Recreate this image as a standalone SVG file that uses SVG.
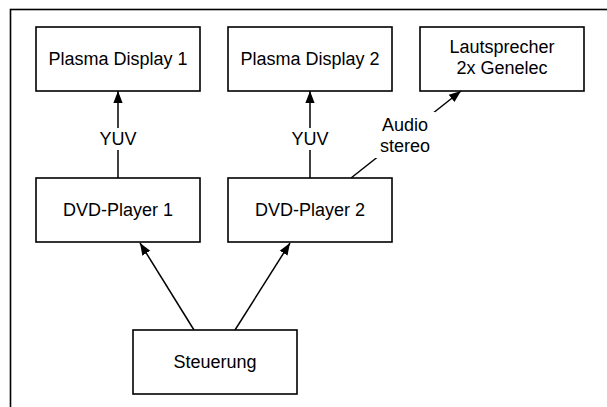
<svg xmlns="http://www.w3.org/2000/svg" width="607" height="407" viewBox="0 0 607 407">
<style>
.box{fill:#fff;stroke:#000;stroke-width:1.6}
.t{font-family:"Liberation Sans",Arial,Helvetica,sans-serif;font-size:18px;fill:#000;text-anchor:middle;dominant-baseline:central}
.c{stroke:#000;stroke-width:1.5;fill:none}
.bg{fill:#fff;stroke:none}
</style>
<defs>
<marker id="ah" markerUnits="userSpaceOnUse" markerWidth="12" markerHeight="14" refX="13" refY="5" orient="auto" viewBox="0 0 13 10">
<path d="M0,0 L13,5 L0,10 Z" fill="#000"/>
</marker>
</defs>
<rect x="10.5" y="9.5" width="700" height="500" fill="#fff" stroke="#000" stroke-width="1.6"/>
<g id="connectors">
<line class="c" x1="118" y1="178" x2="118" y2="91" marker-end="url(#ah)"/>
<line class="c" x1="310" y1="178" x2="310" y2="91" marker-end="url(#ah)"/>
<line class="c" x1="351" y1="178" x2="461" y2="91" marker-end="url(#ah)"/>
<line class="c" x1="194" y1="330" x2="140" y2="243" marker-end="url(#ah)"/>
<line class="c" x1="235" y1="330" x2="290" y2="243" marker-end="url(#ah)"/>
<rect class="bg" x="99" y="128" width="38" height="22"/>
<text class="t" x="118" y="139">YUV</text>
<rect class="bg" x="291" y="128" width="38" height="22"/>
<text class="t" x="310" y="139">YUV</text>
<rect class="bg" x="375" y="112" width="60" height="46"/>
<text class="t" x="405" y="125">Audio</text>
<text class="t" x="405" y="146">stereo</text>
</g>
<g id="pd1"><rect class="box" x="36" y="27" width="164" height="64"/><text class="t" x="118" y="59">Plasma Display 1</text></g>
<g id="pd2"><rect class="box" x="228" y="27" width="164" height="64"/><text class="t" x="310" y="59">Plasma Display 2</text></g>
<g id="laut"><rect class="box" x="420" y="27" width="164" height="64"/><text class="t" x="502" y="47">Lautsprecher</text><text class="t" x="502" y="68">2x Genelec</text></g>
<g id="dvd1"><rect class="box" x="36" y="178" width="164" height="64"/><text class="t" x="118" y="210">DVD-Player 1</text></g>
<g id="dvd2"><rect class="box" x="228" y="178" width="164" height="64"/><text class="t" x="310" y="210">DVD-Player 2</text></g>
<g id="steuerung"><rect class="box" x="133" y="330" width="164" height="64"/><text class="t" x="215" y="362">Steuerung</text></g>
</svg>
